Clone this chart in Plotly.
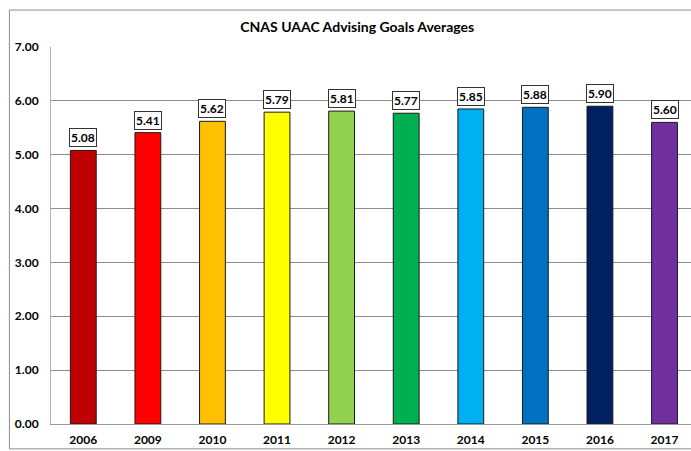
import plotly.graph_objects as go

years = ["2006", "2009", "2010", "2011", "2012", "2013", "2014", "2015", "2016", "2017"]
averages = [5.08, 5.41, 5.62, 5.79, 5.81, 5.77, 5.85, 5.88, 5.90, 5.60]
bar_colors = ["#C00000", "#FF0000", "#FFC000", "#FFFF00", "#92D050",
              "#00B050", "#00B0F0", "#0070C0", "#002060", "#7030A0"]
title_text = "CNAS UAAC Advising Goals Averages"

FONT = "Lato"

fig = go.Figure()
fig.add_trace(go.Bar(
    x=years, y=averages,
    marker=dict(color=bar_colors, line=dict(color="#1a1a1a", width=1)),
    width=0.4, hoverinfo="skip",
))

for i, v in enumerate(averages):
    fig.add_annotation(
        x=i, y=v, text=f"<b>{v:.2f}</b>", showarrow=False,
        xref="x", yref="y",
        yanchor="bottom", yshift=3,
        bgcolor="white", bordercolor="#333333", borderwidth=1, borderpad=1,
        font=dict(family=FONT, size=12, color="#000000"),
    )

# outer chart border (left, top, bottom edges; right edge is off-canvas)
border = dict(color="#8c8c8c", width=1)
for x0, y0, x1, y1 in [(-0.065, -0.066, -0.065, 1.098),
                       (-0.065, 1.098, 1.05, 1.098),
                       (-0.065, -0.066, 1.05, -0.066)]:
    fig.add_shape(type="line", xref="paper", yref="paper",
                  x0=x0, y0=y0, x1=x1, y1=y1, line=border, layer="above")

fig.update_layout(
    width=691, height=451,
    margin=dict(l=51, r=0, t=47, b=27),
    paper_bgcolor="white", plot_bgcolor="white",
    showlegend=False,
    title=dict(text=f"<b>{title_text}</b>", x=0.517, xanchor="center",
               y=1 - 27 / 451, yanchor="middle", yref="container",
               font=dict(family=FONT, size=14, color="#000000")),
    xaxis=dict(type="category", range=[-0.5, 9.41], showgrid=False,
               showline=True, linecolor="#9a9a9a", linewidth=1,
               tickfont=dict(family=FONT, size=12, color="#000000", weight="bold"),
               ticklabelstandoff=5, ticks=""),
    yaxis=dict(range=[0, 7], dtick=1, tickformat=".2f",
               showgrid=True, gridcolor="#8c8c8c", gridwidth=1,
               showline=True, linecolor="#b0b0b0", linewidth=1,
               zeroline=False,
               tickfont=dict(family=FONT, size=12, color="#000000", weight="bold"),
               ticklabelstandoff=9, ticks=""),
)

fig.write_html("out.html", config={"displayModeBar": False},
               post_script="document.body.style.margin='0';document.body.style.overflow='hidden';")
